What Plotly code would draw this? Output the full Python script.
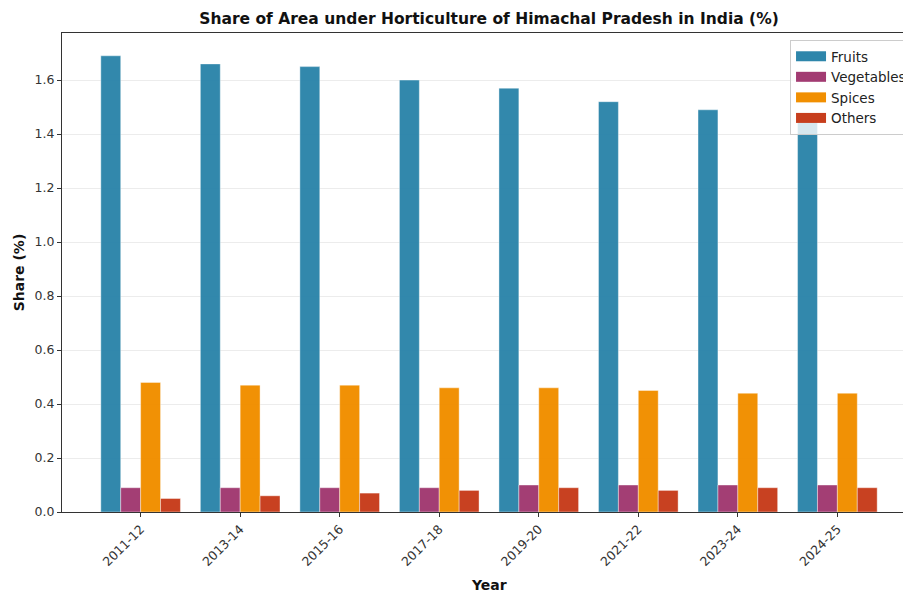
import plotly.graph_objects as go

years = ["2011-12", "2013-14", "2015-16", "2017-18", "2019-20", "2021-22", "2023-24", "2024-25"]
fruits = [1.69, 1.66, 1.65, 1.60, 1.57, 1.52, 1.49, 1.45]
vegetables = [0.09, 0.09, 0.09, 0.09, 0.10, 0.10, 0.10, 0.10]
spices = [0.48, 0.47, 0.47, 0.46, 0.46, 0.45, 0.44, 0.44]
others = [0.05, 0.06, 0.07, 0.08, 0.09, 0.08, 0.09, 0.09]

series = [
    ("Fruits", fruits, "#2E86AB"),
    ("Vegetables", vegetables, "#A23B72"),
    ("Spices", spices, "#F18F01"),
    ("Others", others, "#C73E1D"),
]

FONT = "DejaVu Sans"
fig = go.Figure()
for name, vals, col in series:
    fig.add_trace(go.Bar(
        x=list(range(len(years))), y=vals, name=name, showlegend=False,
        marker=dict(color=col, opacity=0.98, line=dict(color="rgba(255,255,255,0.5)", width=0.8)),
    ))
# legend swatches as wide rectangles
for name, vals, col in series:
    fig.add_trace(go.Scatter(
        x=[None], y=[None], mode="lines", name=name,
        line=dict(color=col, width=10),
    ))

# the original figure is wider than the 903px window and is cropped at the right
fig.update_layout(
    width=930, height=593,
    margin=dict(l=62, r=14, t=33, b=81),
    paper_bgcolor="white", plot_bgcolor="white",
    barmode="group", bargap=0.2, bargroupgap=0,
    font=dict(family=FONT, size=12, color="#333333"),
    title=dict(text="<b>Share of Area under Horticulture of Himachal Pradesh in India (%)</b>",
               x=0.5, xref="paper", y=1 - 19 / 593, yref="container",
               yanchor="middle", xanchor="center",
               font=dict(family=FONT, size=15.5, color="#111111")),
    showlegend=True,
    legend=dict(x=0.8525, y=0.9854, xanchor="left", yanchor="top",
                bgcolor="rgba(255,255,255,0.8)", bordercolor="#cccccc", borderwidth=1,
                font=dict(family=FONT, size=13.5, color="#222222"),
                tracegroupgap=0, itemwidth=30),
    annotations=[dict(text="<b>Year</b>", x=0.5, xref="paper", y=-73 / 479, yref="paper",
                      xanchor="center", yanchor="middle", showarrow=False,
                      font=dict(family=FONT, size=14, color="#111111"))],
)
fig.update_xaxes(
    range=[-0.79, 7.79], tickmode="array", tickvals=list(range(len(years))), ticktext=years,
    tickangle=-45, ticks="outside", ticklen=4, tickcolor="#333333",
    showline=True, linecolor="#333333", linewidth=1, mirror=True,
    showgrid=False, zeroline=False, automargin=False,
    tickfont=dict(family=FONT, size=12.5, color="#333333"),
)
fig.update_yaxes(
    range=[0, 1.7745], tickmode="array", tickvals=[0, 0.2, 0.4, 0.6, 0.8, 1.0, 1.2, 1.4, 1.6],
    ticktext=["0.0", "0.2", "0.4", "0.6", "0.8", "1.0", "1.2", "1.4", "1.6"],
    ticks="outside", ticklen=4, tickcolor="#333333",
    showline=True, linecolor="#333333", linewidth=1, mirror=True,
    showgrid=True, gridcolor="rgba(200,200,200,0.35)", gridwidth=1, zeroline=False,
    tickfont=dict(family=FONT, size=12.5, color="#333333"),
    title=dict(text="<b>Share (%)</b>", font=dict(family=FONT, size=14, color="#111111"), standoff=6),
)
fig.write_html("out.html", config={"displayModeBar": False},
               post_script="document.body.style.margin='0';document.body.style.overflow='hidden';")
